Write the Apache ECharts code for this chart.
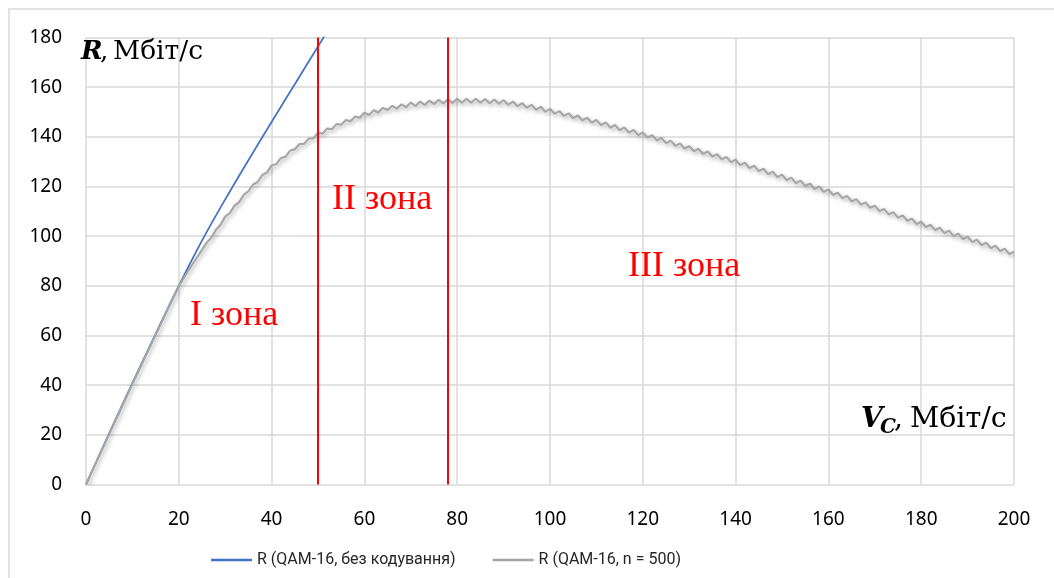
<!DOCTYPE html>
<html>
<head>
<meta charset="utf-8">
<script src="https://cdn.jsdelivr.net/npm/echarts@6/dist/echarts.min.js"></script>
<style>
html,body{margin:0;padding:0;background:#fff;}
#c{width:1054px;height:578px;}
</style>
</head>
<body>
<div id="c"></div>
<script>
// ---- data ----
const seriesNames = ['R (QAM-16, без кодування)', 'R (QAM-16, n = 500)'];
const xMin = 0, xMax = 200, xStep = 20;
const yMin = 0, yMax = 180, yStep = 20;

// blue curve (uncoded), points [Vc, R]
const blueX = [0, 5, 10, 15, 20, 25, 30, 35, 40, 45, 50, 55];
const blueY = [0, 20.6, 40.8, 60.6, 80.0, 98.2, 114.8, 130.6, 146.0, 161.2, 176.4, 191.5];

// grey curve (n = 500), R value at Vc = 0,1,2,...,200
const greyY = [
  0, 4.1, 8.2, 12.2, 16.3, 20.4, 24.4, 28.4, 32.4, 36.4,
  40.5, 44.4, 48.4, 52.4, 56.3, 60.3, 64.2, 68.2, 72.1, 76.0,
  79.8, 83.0, 86.0, 88.9, 91.7, 94.5, 97.4, 99.4, 102.6, 104.6,
  107.9, 109.3, 112.3, 113.7, 116.7, 118.1, 120.8, 121.9, 124.6, 125.7,
  128.5, 129.0, 131.5, 132.0, 134.5, 135.0, 137.1, 137.2, 139.3, 139.4,
  141.6, 141.3, 143.4, 143.1, 145.2, 144.9, 146.8, 146.3, 148.2, 147.7,
  149.7, 148.8, 150.7, 149.8, 151.7, 150.8, 152.5, 151.4, 153.1, 152.0,
  153.8, 152.4, 154.2, 152.8, 154.6, 153.2, 154.9, 153.4, 155.1, 153.6,
  155.3, 153.7, 155.3, 153.7, 155.3, 153.7, 155.2, 153.5, 155.0, 153.3,
  154.8, 152.9, 154.2, 152.3, 153.6, 151.7, 152.9, 150.9, 152.1, 150.1,
  151.3, 149.3, 150.4, 148.4, 149.5, 147.5, 148.6, 146.6, 147.7, 145.7,
  146.8, 144.7, 145.8, 143.7, 144.8, 142.7, 143.8, 141.7, 142.8, 140.7,
  141.8, 139.7, 140.7, 138.6, 139.6, 137.5, 138.5, 136.4, 137.4, 135.3,
  136.3, 134.2, 135.2, 133.1, 134.1, 132.0, 133.0, 130.9, 131.9, 129.8,
  130.8, 128.6, 129.6, 127.4, 128.4, 126.2, 127.2, 125.0, 126.0, 123.8,
  124.8, 122.6, 123.6, 121.4, 122.4, 120.2, 121.2, 119.0, 120.0, 117.8,
  118.8, 116.6, 117.5, 115.3, 116.2, 114.0, 114.9, 112.7, 113.6, 111.4,
  112.3, 110.1, 111.0, 108.8, 109.7, 107.5, 108.4, 106.2, 107.1, 104.9,
  105.8, 103.6, 104.6, 102.4, 103.4, 101.2, 102.2, 100.0, 101.0, 98.8,
  99.8, 97.6, 98.6, 96.4, 97.4, 95.2, 96.2, 94.0, 95.0, 92.8,
  93.8
];

// zone boundaries (Vc)
const zoneBounds = [50, 78];
const zoneLabels = ['I зона', 'II зона', 'III зона'];
const axisNameY = ['R', ', ', 'Мбіт/с'];
const axisNameX = ['V', 'C', ', ', 'Мбіт/с'];

// ---- chart ----
const chart = echarts.init(document.getElementById('c'), null, {renderer: 'canvas'});
const gridColor = '#d9d9d9';
const tickFont = {fontFamily: 'Noto Sans', fontSize: 19, color: '#000'};

const blueData = blueX.map((x, i) => [x, blueY[i]]);
const greyData = greyY.map((y, i) => [i, y]);

const serif = 'DejaVu Serif';
function txt(x, y, text, font, fill) {
  return {type: 'text', silent: true, z: 100,
    style: {x: x, y: y, text: text, font: font, fill: fill || '#000',
            textAlign: 'left', textVerticalAlign: 'middle', verticalAlign: 'middle'}};
}
const zoneFont = '36px "Liberation Serif"';

const option = {
  backgroundColor: '#fff',
  animation: false,
  grid: {left: 86, right: 40, top: 37.5, bottom: 93.5, containLabel: false, show: false},
  xAxis: {
    type: 'value', min: xMin, max: xMax, interval: xStep,
    axisLine: {show: false}, axisTick: {show: false},
    axisLabel: Object.assign({margin: 26}, tickFont),
    splitLine: {show: true, lineStyle: {color: gridColor, width: 1.5, type: 'solid'}}
  },
  yAxis: {
    type: 'value', min: yMin, max: yMax, interval: yStep,
    axisLine: {show: false}, axisTick: {show: false},
    axisLabel: Object.assign({margin: 24}, tickFont),
    splitLine: {show: true, lineStyle: {color: gridColor, width: 1.5, type: 'solid'}}
  },
  legend: {
    left: 206, top: 547, orient: 'horizontal',
    icon: 'rect', itemWidth: 41, itemHeight: 2.5, itemGap: 37,
    textStyle: {fontFamily: 'Roboto', fontSize: 16, color: '#262626'},
    data: seriesNames
  },
  series: [
    {
      name: seriesNames[0], type: 'line', data: blueData,
      color: '#4472c4', symbol: 'none', smooth: 0.3, clip: true,
      lineStyle: {color: '#4472c4', width: 1.75},
      z: 2
    },
    {
      name: seriesNames[1], type: 'line', data: greyData,
      color: '#a5a5a5', symbol: 'none', smooth: false, clip: true,
      lineStyle: {color: '#a5a5a5', width: 2, shadowColor: 'rgba(0,0,0,0.35)', shadowBlur: 4, shadowOffsetX: 1.5, shadowOffsetY: 2},
      z: 3,
      markLine: {
        silent: true, symbol: ['none', 'none'], label: {show: false},
        lineStyle: {color: '#ff0000', width: 2, type: 'solid', shadowBlur: 0},
        emphasis: {disabled: true},
        data: zoneBounds.map(v => ({xAxis: v}))
      }
    }
  ],
  graphic: [
    {type: 'rect', silent: true, z: -1, shape: {x: 9, y: 9, width: 1200, height: 700},
     style: {fill: 'none', stroke: gridColor, lineWidth: 1.5}},
    txt(190, 316, zoneLabels[0], zoneFont, '#ff0000'),
    txt(332, 199.5, zoneLabels[1], zoneFont, '#ff0000'),
    txt(628, 266.5, zoneLabels[2], zoneFont, '#ff0000'),
    txt(81, 51.8, axisNameY[0], 'italic bold 26px "' + serif + '"'),
    txt(100, 52.5, axisNameY[1], '26.5px "' + serif + '"'),
    txt(113, 52.5, axisNameY[2], '26.5px "' + serif + '"'),
    txt(861, 419.5, axisNameX[0], 'italic bold 28px "' + serif + '"'),
    txt(880, 428, axisNameX[1], 'italic bold 20px "' + serif + '"'),
    txt(894, 419.5, axisNameX[2], '28.5px "' + serif + '"'),
    txt(910, 419.5, axisNameX[3], '28.5px "' + serif + '"')
  ]
};
chart.setOption(option);
</script>
</body>
</html>
